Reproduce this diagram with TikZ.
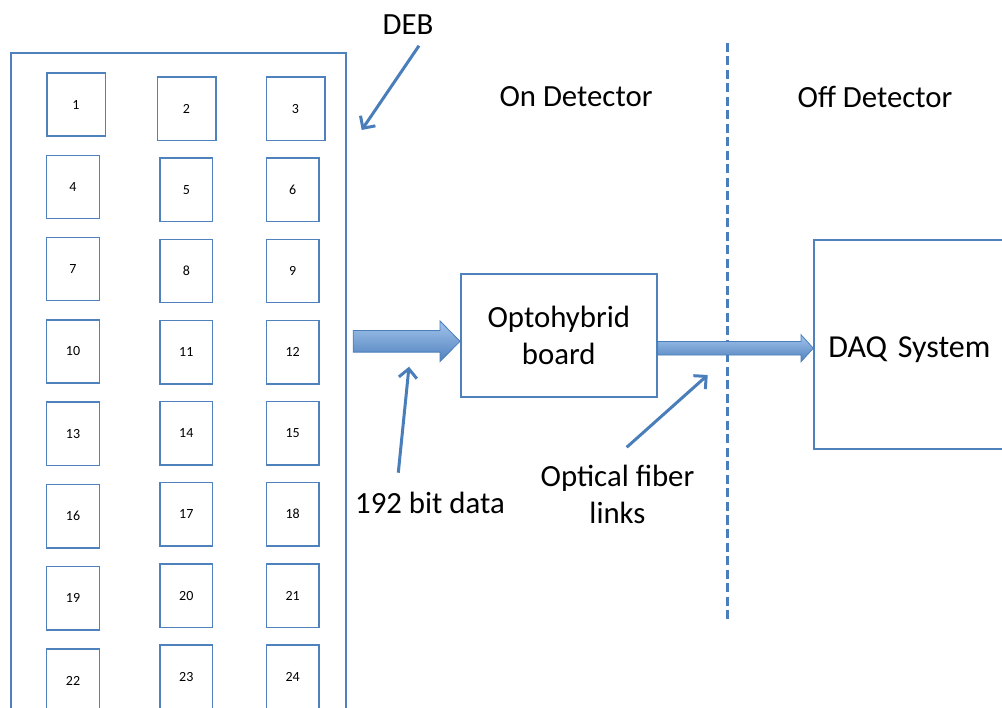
\documentclass[tikz,border=0pt]{standalone}
\usepackage{fontspec}
\setmainfont{Carlito}
\usetikzlibrary{arrows.meta,calc}
\definecolor{lineblue}{RGB}{79,129,189}
\definecolor{calloutblue}{RGB}{74,126,187}
\definecolor{shadetop}{RGB}{163,196,236}
\definecolor{shadebot}{RGB}{79,129,189}

% block arrow: #1 start, #2 tip, #3 half shaft, #4 half head, #5 head length
\newcommand\fatArrow[5]{%
  \path[fat] ($(#1)+(0,-#3)$) -- ($(#2)+(-#5,-#3)$) -- ($(#2)+(-#5,-#4)$)
    -- (#2) -- ($(#2)+(-#5,#4)$) -- ($(#2)+(-#5,#3)$) -- ($(#1)+(0,#3)$) -- cycle;}

\begin{document}
\begin{tikzpicture}[x=1pt,y=-1pt,
  chip/.style={draw=lineblue, line width=1.5pt, minimum width=52.7pt,
    minimum height=63.4pt, inner sep=0pt, font=\fontsize{14}{16}\selectfont},
  wide/.style={minimum width=58.5pt},
  bigtext/.style={font=\fontsize{30.8}{37}\selectfont, inner sep=0pt},
  block/.style={draw=lineblue, line width=1.6pt, inner sep=0pt},
  callout/.style={draw=calloutblue, line width=3pt,
    -{Straight Barb[length=9pt,width=18pt]}},
  fat/.style={top color=shadetop, bottom color=shadebot, draw=calloutblue,
    line width=0.8pt},
  divider/.style={draw=calloutblue, line width=3pt, dash pattern=on 9pt off 4.5pt}
]
\useasboundingbox (0,0) rectangle (1002,708);
\clip (0,0) rectangle (1002,708);

% DEB board with its 24 chips
\node[block, anchor=north west, minimum width=335pt, minimum height=670pt] (deb) at (10,52) {};

\node[chip, wide] (c1)  at (76,104.5)   {1};
\node[chip, wide] (c2)  at (186.5,108.7) {2};
\node[chip, wide] (c3)  at (295.5,108.7) {3};
\node[chip] (c4)  at (73,187)      {4};
\node[chip] (c5)  at (186.3,189.8) {5};
\node[chip] (c6)  at (292.7,189.8) {6};
\node[chip] (c7)  at (73,269)      {7};
\node[chip] (c8)  at (186.3,271)   {8};
\node[chip] (c9)  at (292.7,271)   {9};
\node[chip] (c10) at (73,351.5)    {10};
\node[chip] (c11) at (186.3,352.2) {11};
\node[chip] (c12) at (292.7,352.2) {12};
\node[chip] (c13) at (73,433.8)    {13};
\node[chip] (c14) at (186.3,433.3) {14};
\node[chip] (c15) at (292.7,433.3) {15};
\node[chip] (c16) at (73,516.3)    {16};
\node[chip] (c17) at (186.3,514.2) {17};
\node[chip] (c18) at (292.7,514.2) {18};
\node[chip] (c19) at (73,598.3)    {19};
\node[chip] (c20) at (186.3,595.7) {20};
\node[chip] (c21) at (292.7,595.7) {21};
\node[chip] (c22) at (73,680.5)    {22};
\node[chip] (c23) at (186.3,676.7) {23};
\node[chip] (c24) at (292.7,676.7) {24};

% optohybrid and DAQ blocks
\node[block, bigtext, anchor=north west, minimum width=196pt, minimum height=122.7pt,
  align=center] (opto) at (460,273.3) {Optohybrid\\board};
\node[block, font=\fontsize{32}{38}\selectfont, anchor=north west, minimum height=209pt,
  text width=200pt, text height=32.6pt, text depth=6.4pt, inner xsep=14.2pt,
  inner ysep=0pt, align=left] (daq) at (813.3,239.3) {DAQ System};

% region labels and divider
\node[bigtext] (onlbl)  at (576,97) {On Detector};
\node[bigtext] (offlbl) at (875,97) {Off Detector};
\coordinate (divtop) at (727,43);
\coordinate (divbot) at (727,620);
\draw[divider] (divtop) -- (divbot);

% data flow block arrows
\coordinate (in1) at (353.3,341.3);
\coordinate (tip1) at (opto.west |- in1);
\fatArrow{in1}{tip1}{10.85}{20.35}{20}
\coordinate (out2) at ($(opto.east)+(0,12.8)$);
\coordinate (tip2) at (daq.west |- out2);
\fatArrow{out2}{tip2}{6.8}{13.5}{12.3}

% callout labels
\node[bigtext] (deblbl) at (408,25) {DEB};
\node[bigtext] (bitlbl) at (430,503) {192 bit data};
\node[bigtext, align=center] (fiberlbl) at (617.5,494) {Optical fiber\\links};

\coordinate (debfrom) at (419,45.7);
\coordinate (debto) at (361.7,130);
\draw[callout] (debfrom) -- (debto);
\coordinate (bitfrom) at (398.3,472.7);
\coordinate (bitto) at (409,366.7);
\draw[callout] (bitfrom) -- (bitto);
\coordinate (fiberfrom) at (626.7,447.3);
\coordinate (fiberto) at (707.7,375);
\draw[callout] (fiberfrom) -- (fiberto);
\end{tikzpicture}
\end{document}
